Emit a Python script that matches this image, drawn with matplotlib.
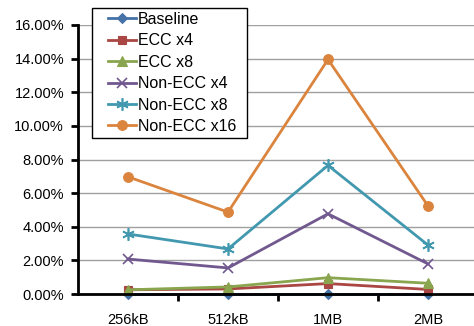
import matplotlib
matplotlib.use("Agg")
import matplotlib.pyplot as plt
from matplotlib.ticker import FuncFormatter, FixedLocator
from matplotlib.legend_handler import HandlerLine2D
from matplotlib.lines import Line2D
from matplotlib.patches import Rectangle
from matplotlib.transforms import IdentityTransform

plt.rcParams['font.family'] = ['Liberation Sans', 'DejaVu Sans']

categories = ["256kB", "512kB", "1MB", "2MB"]
baseline = [0.0, 0.0, 0.0, 0.0]
ecc_x4 = [0.25, 0.30, 0.62, 0.27]
ecc_x8 = [0.25, 0.42, 0.97, 0.64]
non_ecc_x4 = [2.08, 1.55, 4.77, 1.79]
non_ecc_x8 = [3.57, 2.68, 7.65, 2.91]
non_ecc_x16 = [6.97, 4.87, 13.95, 5.24]

series = [
    ("Baseline", baseline, "#4572A7", "D", 5),
    ("ECC x4", ecc_x4, "#AA4643", "s", 6),
    ("ECC x8", ecc_x8, "#89A54E", "^", 7),
    ("Non-ECC x4", non_ecc_x4, "#71588F", "x", 7),
    ("Non-ECC x8", non_ecc_x8, "#4198AF", (6, 2, 0), 9),
    ("Non-ECC x16", non_ecc_x16, "#DB843D", "o", 7),
]

fig = plt.figure(figsize=(4.74, 3.26), dpi=100)
ax = fig.add_axes([78 / 474, 1 - 294 / 326, 400 / 474, 269 / 326])

x = list(range(len(categories)))
for name, vals, color, marker, ms in series:
    ax.plot(x, vals, color=color, lw=2, marker=marker, markersize=ms,
            markeredgewidth=1.2 if marker in ("x", (6, 2, 0)) else 0.8,
            label=name, clip_on=False, zorder=3)

ax.set_xlim(-0.5, 3.5)
ax.set_ylim(0, 16)
ax.yaxis.set_major_locator(FixedLocator([0, 2, 4, 6, 8, 10, 12, 14, 16]))
ax.yaxis.set_major_formatter(FuncFormatter(lambda v, p: f"{v:.2f}%"))
ax.set_xticks(x)
ax.set_xticklabels(categories)
ax.set_xticks([0.5, 1.5, 2.5], minor=True)
ax.tick_params(axis='x', which='major', length=0, pad=14, labelsize=10.5)
ax.tick_params(axis='x', which='minor', length=5, width=2, direction='out')
ax.tick_params(axis='y', length=5, width=2, direction='out', labelsize=10.5, pad=5)

ax.grid(axis='y', color='#a0a0a0', lw=1)
ax.set_axisbelow(True)
for side in ("top", "right"):
    ax.spines[side].set_visible(False)
for side in ("left", "bottom"):
    ax.spines[side].set_linewidth(2)
    ax.spines[side].set_color("black")
ax.spines['bottom'].set_zorder(4)

leg = ax.legend(loc='upper left', bbox_to_anchor=(14 / 400, 1 + 17 / 269),
                fontsize=11.5, frameon=False, borderaxespad=0,
                handlelength=2.5, handletextpad=0.1, labelspacing=0.4,
                borderpad=0.25,
                handler_map={Line2D: HandlerLine2D(xpad=0.75)})
leg.set_zorder(6)

# legend box with a little extra room on the right
fig.canvas.draw()
bb = leg.get_window_extent()
box = Rectangle((bb.x0, bb.y0), bb.width + 7, bb.height,
                transform=IdentityTransform(), facecolor="white",
                edgecolor="black", lw=1, zorder=5)
ax.add_artist(box)
box.set_clip_on(False)

fig.savefig("out.png", dpi=100)
